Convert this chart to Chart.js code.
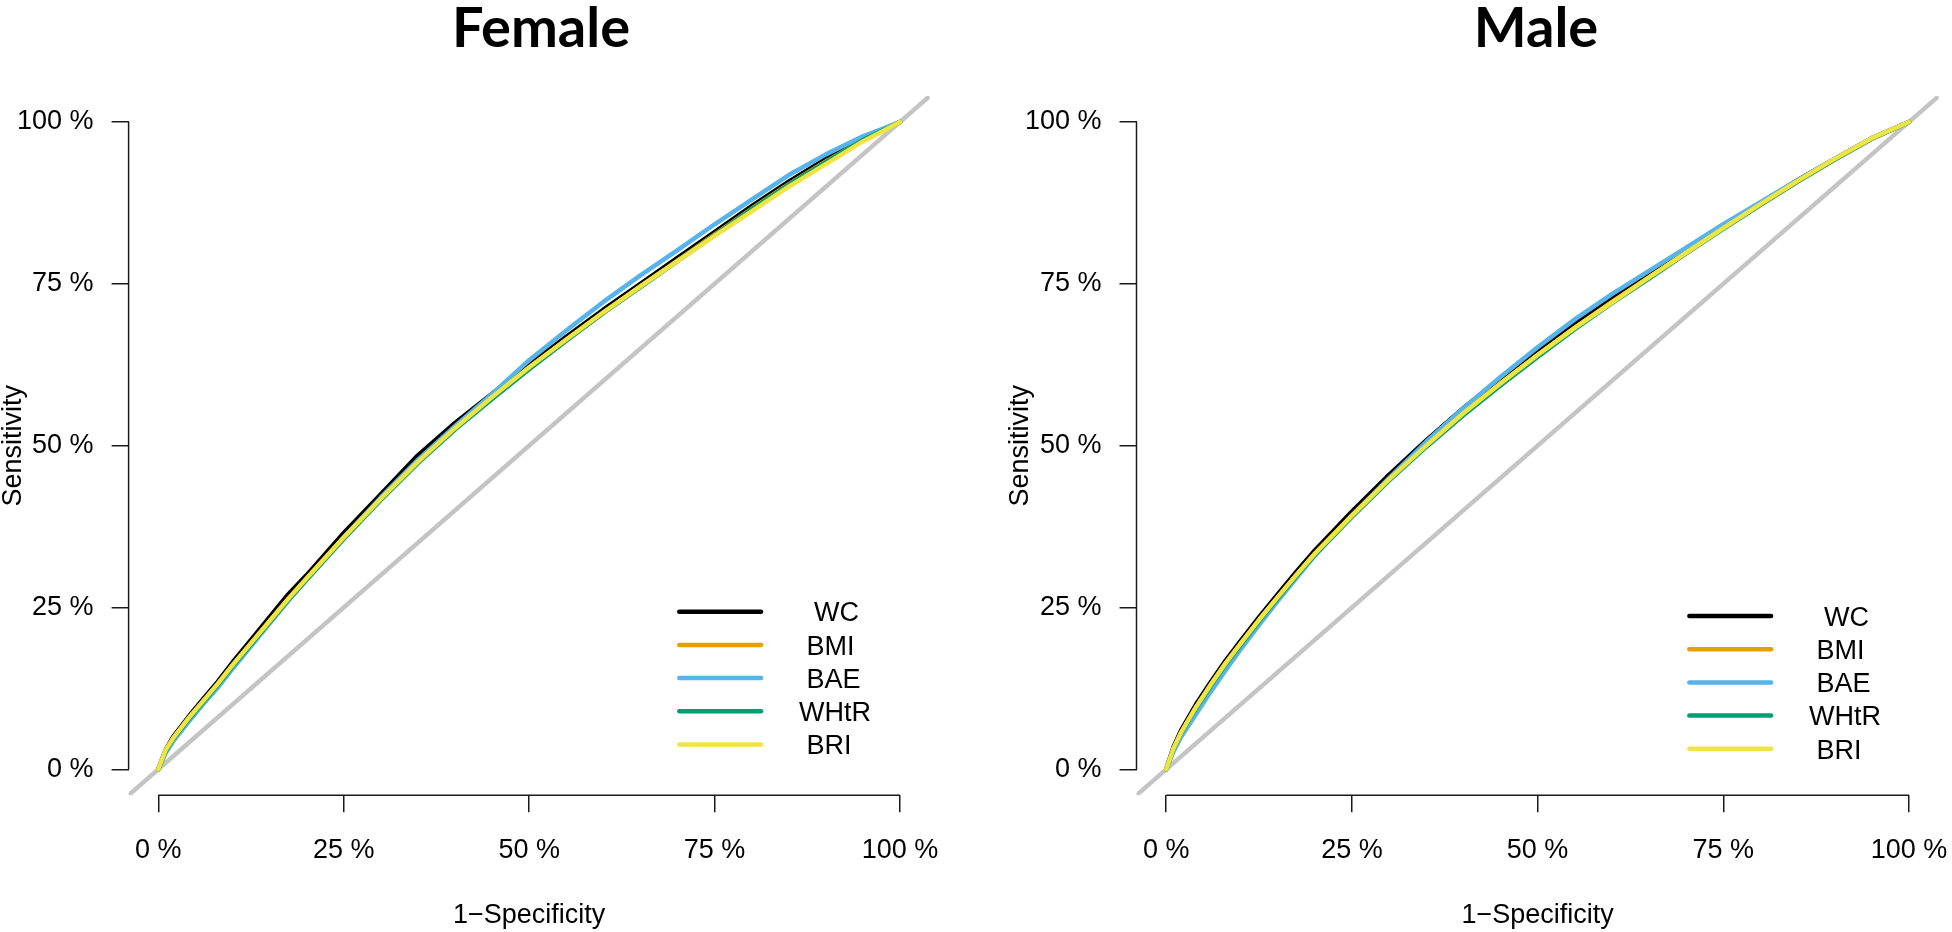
<!DOCTYPE html>
<html>
<head>
<meta charset="utf-8">
<title>ROC curves - Female / Male</title>
<script src="https://cdn.jsdelivr.net/npm/chart.js@4/dist/chart.umd.min.js"></script>
<style>
    html, body { margin: 0; padding: 0; background: #fff; }
    #wrap { position: relative; width: 1952px; height: 932px; }
    .panel { position: absolute; top: 0; width: 976px; height: 932px; }
    #female-panel { left: 0; }
    #male-panel { left: 976px; }
</style>
</head>
<body>
<div id="wrap">
    <div class="panel" id="female-panel"><canvas id="female-chart"></canvas></div>
    <div class="panel" id="male-panel"><canvas id="male-chart"></canvas></div>
</div>
<script>
const fpr = [0, 1, 2, 4, 6, 8, 10, 12.5, 15, 17.5, 20, 25, 30, 35, 40, 45, 50, 55, 60, 65, 70, 75, 80, 85, 90, 95, 100];

// Sensitivity (%) - Female
const femaleWC   = [0, 3.0, 5.0, 8.0, 10.8, 13.5, 16.5, 20.0, 23.5, 27.0, 30.0, 36.5, 42.5, 48.5, 53.5, 58.0, 62.5, 66.8, 71.0, 75.0, 79.0, 83.0, 87.0, 90.8, 94.3, 97.5, 100];
const femaleBMI  = [0, 2.8, 4.7, 7.6, 10.4, 13.0, 16.0, 19.4, 22.8, 26.2, 29.4, 35.8, 41.8, 47.6, 52.7, 57.4, 62.0, 66.3, 70.5, 74.6, 78.6, 82.6, 86.6, 90.4, 93.9, 97.2, 100];
const femaleBAE  = [0, 2.5, 4.3, 7.2, 10.0, 12.6, 15.5, 19.0, 22.5, 26.0, 29.3, 35.8, 42.0, 47.8, 53.0, 58.0, 63.2, 67.8, 72.2, 76.3, 80.2, 84.2, 88.0, 91.8, 95.0, 97.8, 100];
const femaleWHtR = [0, 2.8, 4.7, 7.6, 10.3, 13.0, 15.9, 19.3, 22.7, 26.1, 29.3, 35.6, 41.6, 47.3, 52.5, 57.2, 61.8, 66.2, 70.5, 74.5, 78.5, 82.5, 86.5, 90.3, 93.8, 97.2, 100];
const femaleBRI  = [0, 3.0, 4.8, 7.8, 10.5, 13.2, 16.1, 19.5, 22.9, 26.3, 29.5, 35.8, 41.8, 47.5, 52.7, 57.5, 62.1, 66.4, 70.6, 74.6, 78.5, 82.4, 86.2, 90.0, 93.5, 97.0, 100];

// Sensitivity (%) - Male
const maleWC   = [0, 3.5, 6.0, 10.0, 13.5, 16.8, 19.8, 23.5, 27.0, 30.5, 33.8, 39.8, 45.5, 50.8, 55.8, 60.3, 64.8, 69.0, 72.8, 76.6, 80.3, 84.0, 87.5, 91.0, 94.3, 97.5, 100];
const maleBMI  = [0, 3.2, 5.6, 9.5, 13.0, 16.3, 19.3, 23.0, 26.5, 30.0, 33.3, 39.2, 44.8, 50.0, 55.0, 59.6, 64.0, 68.2, 72.2, 76.0, 79.8, 83.6, 87.2, 90.8, 94.2, 97.4, 100];
const maleBAE  = [0, 2.8, 5.0, 8.5, 12.0, 15.3, 18.5, 22.3, 26.0, 29.5, 33.0, 39.2, 45.0, 50.6, 55.8, 60.6, 65.2, 69.5, 73.4, 77.0, 80.6, 84.2, 87.6, 91.0, 94.3, 97.5, 100];
const maleWHtR = [0, 3.2, 5.6, 9.4, 12.9, 16.2, 19.2, 22.9, 26.4, 29.8, 33.1, 39.0, 44.6, 49.8, 54.7, 59.3, 63.7, 68.0, 72.0, 75.8, 79.7, 83.5, 87.2, 90.8, 94.2, 97.4, 100];
const maleBRI  = [0, 3.3, 5.7, 9.6, 13.1, 16.4, 19.4, 23.1, 26.6, 30.0, 33.3, 39.2, 44.8, 50.0, 55.0, 59.6, 64.0, 68.2, 72.1, 76.0, 79.8, 83.6, 87.3, 90.9, 94.3, 97.5, 100];

const seriesNames  = ['WC', 'BMI', 'BAE', 'WHtR', 'BRI'];
const legendLabels = ['  WC', ' BMI', ' BAE', 'WHtR', ' BRI'];
const seriesColors = ['#000000', '#E69F00', '#56B4E9', '#009E73', '#F0E442'];
const axisTicks = [0, 25, 50, 75, 100];
const refLine = [-4, 104];   // chance diagonal, runs past the plot box and gets clipped

const LABEL_FONT = 'Liberation Sans, Arial, sans-serif';
Chart.defaults.font.family = LABEL_FONT;
Chart.defaults.color = '#000';

// R-style decorations: axis lines between first/last tick, panel title, legend
const rocDecor = {
    id: 'rocDecor',
    afterDraw(chart, args, opts) {
        const ctx = chart.ctx;
        const area = chart.chartArea;
        const xs = chart.scales.x;
        const ys = chart.scales.y;
        ctx.save();

        ctx.strokeStyle = '#1a1a1a';
        ctx.lineWidth = 1.5;
        ctx.beginPath();
        ctx.moveTo(area.left, ys.getPixelForValue(axisTicks[0]));
        ctx.lineTo(area.left, ys.getPixelForValue(axisTicks[axisTicks.length - 1]));
        ctx.moveTo(xs.getPixelForValue(axisTicks[0]), area.bottom);
        ctx.lineTo(xs.getPixelForValue(axisTicks[axisTicks.length - 1]), area.bottom);
        ctx.stroke();

        // title
        ctx.fillStyle = '#000';
        ctx.font = 'bold 56px Lato, "Noto Sans", sans-serif';
        ctx.textAlign = 'center';
        ctx.textBaseline = 'alphabetic';
        ctx.fillText(opts.title, opts.titleX, opts.titleBaseline);

        // legend
        const x0 = xs.getPixelForValue(opts.legendX[0]);
        const x1 = xs.getPixelForValue(opts.legendX[1]);
        const top = ys.getPixelForValue(opts.legendTop);
        ctx.font = '27px ' + LABEL_FONT;
        ctx.textAlign = 'left';
        ctx.lineCap = 'round';
        ctx.lineWidth = 4.5;
        seriesNames.forEach((name, i) => {
            const ly = top + i * opts.legendGap;
            ctx.strokeStyle = seriesColors[i];
            ctx.beginPath();
            ctx.moveTo(x0, ly);
            ctx.lineTo(x1, ly);
            ctx.stroke();
            ctx.fillText(legendLabels[i], x1 + 38, ly + 9.7);
        });
        ctx.restore();
    }
};

function makeDatasets(values) {
    const sets = seriesNames.map((name, i) => ({
        label: name,
        data: fpr.map((f, j) => ({ x: f, y: values[i][j] })),
        borderColor: seriesColors[i],
        backgroundColor: seriesColors[i],
        borderWidth: 4.5,
        borderJoinStyle: 'round',
        borderCapStyle: 'round',
        pointRadius: 0,
        tension: 0,
        order: seriesNames.length - i   // BRI ends up on top
    }));
    sets.push({
        label: 'reference',
        data: refLine.map(v => ({ x: v, y: v })),
        borderColor: '#c4c4c4',
        borderWidth: 4.5,
        pointRadius: 0,
        order: 10
    });
    return sets;
}

function makeChart(canvasId, values, panel) {
    const tickFont = { family: LABEL_FONT, size: 27 };
    const gridOpts = { drawOnChartArea: false, drawTicks: true, tickLength: 17, color: '#1a1a1a', lineWidth: 1.5 };
    const setTicks = s => { s.ticks = axisTicks.map(v => ({ value: v })); };

    return new Chart(document.getElementById(canvasId), {
        type: 'line',
        data: { datasets: makeDatasets(values) },
        options: {
            responsive: true,
            maintainAspectRatio: false,
            animation: false,
            devicePixelRatio: 1,
            layout: { padding: { top: 96.1, left: 0, right: panel.padRight, bottom: 0 } },
            plugins: {
                legend: { display: false },
                tooltip: { enabled: false },
                rocDecor: panel
            },
            scales: {
                x: {
                    type: 'linear',
                    min: -4,
                    max: 104,
                    afterBuildTicks: setTicks,
                    afterFit: s => {
                        s.height = 136.8;
                        // labels may hang past the box edge, don't let them squeeze the plot
                        s.paddingLeft = 0;
                        s.paddingRight = 0;
                    },
                    grid: gridOpts,
                    border: { display: false },
                    ticks: { callback: v => v + ' %', font: tickFont, color: '#000', padding: 22, maxRotation: 0, autoSkip: false },
                    title: { display: true, text: '1−Specificity', font: { family: LABEL_FONT, size: 27, lineHeight: 1.2 }, color: '#000', padding: { top: 0, bottom: 0 } }
                },
                y: {
                    type: 'linear',
                    min: -4,
                    max: 104,
                    afterBuildTicks: setTicks,
                    afterFit: s => {
                        s.width = panel.axisWidth;
                        s.paddingTop = 0;
                        s.paddingBottom = 0;
                    },
                    grid: gridOpts,
                    border: { display: false },
                    ticks: { callback: v => v + ' %', font: tickFont, color: '#000', padding: 18, autoSkip: false },
                    title: { display: true, text: 'Sensitivity', font: { family: LABEL_FONT, size: 27, lineHeight: 1 }, color: '#000', padding: { top: panel.yTitlePad, bottom: 0 } }
                }
            }
        },
        plugins: [rocDecor]
    });
}

makeChart('female-chart', [femaleWC, femaleBMI, femaleBAE, femaleWHtR, femaleBRI], {
    title: 'Female', titleX: 541, titleBaseline: 46.7,
    padRight: 46.3, axisWidth: 128.6, yTitlePad: 0,
    legendX: [70.24, 81.26], legendTop: 24.35, legendGap: 33.2
});

makeChart('male-chart', [maleWC, maleBMI, maleBAE, maleWHtR, maleBRI], {
    title: 'Male', titleX: 560, titleBaseline: 46.7,
    padRight: 13.3, axisWidth: 160.5, yTitlePad: 31.2,
    legendX: [70.43, 81.43], legendTop: 23.68, legendGap: 33.2
});
</script>
</body>
</html>
